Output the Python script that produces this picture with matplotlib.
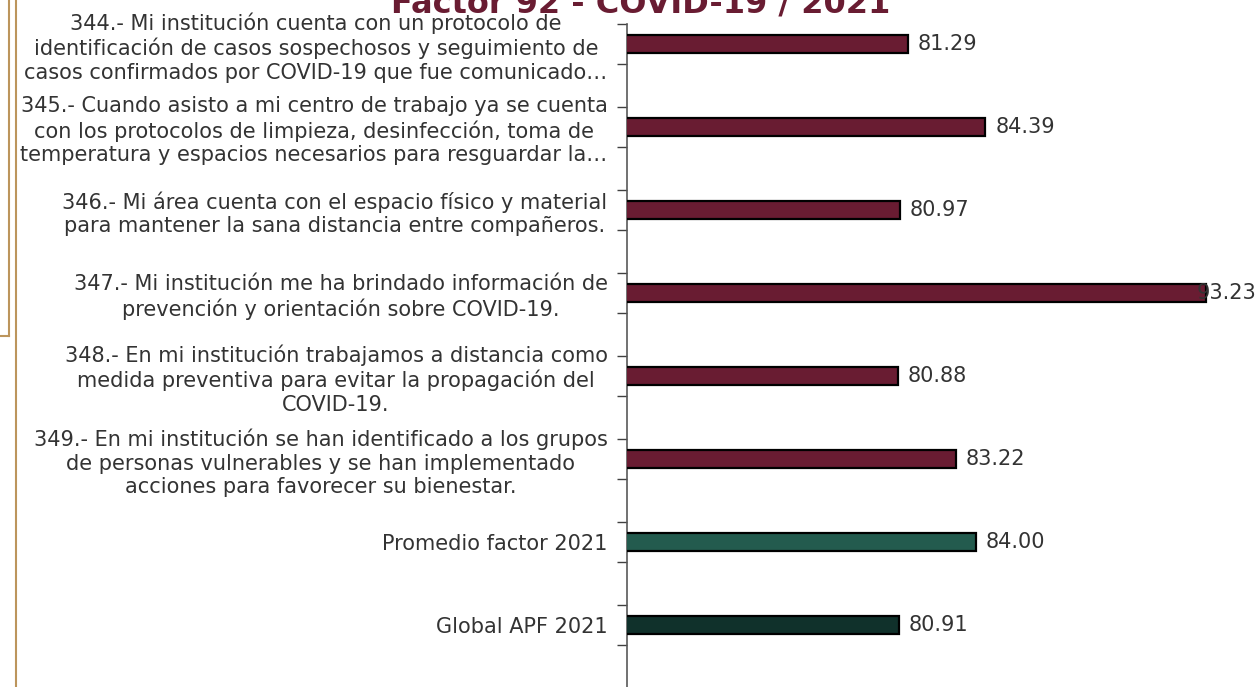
import matplotlib
matplotlib.use("Agg")
from matplotlib import pyplot as plt
from matplotlib.lines import Line2D
import numpy as np

# data
labels = [
    "344.- Mi institución cuenta con un protocolo de\nidentificación de casos sospechosos y seguimiento de\ncasos confirmados por COVID-19 que fue comunicado…",
    "345.- Cuando asisto a mi centro de trabajo ya se cuenta\ncon los protocolos de limpieza, desinfección, toma de\ntemperatura y espacios necesarios para resguardar la…",
    "346.- Mi área cuenta con el espacio físico y material\npara mantener la sana distancia entre compañeros.",
    "347.- Mi institución me ha brindado información de\nprevención y orientación sobre COVID-19.",
    "348.- En mi institución trabajamos a distancia como\nmedida preventiva para evitar la propagación del\nCOVID-19.",
    "349.- En mi institución se han identificado a los grupos\nde personas vulnerables y se han implementado\nacciones para favorecer su bienestar.",
    "Promedio factor 2021",
    "Global APF 2021",
]
values = [81.29, 84.39, 80.97, 93.23, 80.88, 83.22, 84.00, 80.91]
bar_colors = ["#691C32"] * 6 + ["#235B4E", "#10312B"]
title = "Factor 92 - COVID-19 / 2021"

text_col = "#333333"
W, H = 1259, 687
fig = plt.figure(figsize=(W / 100, H / 100), dpi=100)

# plot area: axis line at x=627, top at y=24, runs off the bottom
ax = fig.add_axes([627 / W, 0.0, (1256 - 627) / W, 1 - 24 / H])
xmin, xmax = 70, 95.25
ys = np.arange(len(values))
ax.barh(ys, values, height=0.22, color=bar_colors, edgecolor="black", linewidth=1.6, zorder=3)
ax.set_xlim(xmin, xmax)
ax.set_ylim(7 + 62 / 83, -20 / 83)

ax.set_yticks(ys)
ax.set_yticklabels(labels, fontsize=15, color=text_col, ha="right", multialignment="center",
                   linespacing=1.22)
ax.tick_params(axis="y", which="major", length=0, pad=14)
ax.set_yticks(np.concatenate([ys - 0.24, ys + 0.24]), minor=True)
ax.tick_params(axis="y", which="minor", length=7, width=1, color="#404040", direction="out")
ax.xaxis.set_visible(False)
for s in ["top", "right", "bottom"]:
    ax.spines[s].set_visible(False)
ax.spines["left"].set_color("#595959")
ax.spines["left"].set_linewidth(1.2)

# value labels, the last one is pushed back inside the plot area like Excel does
for y, v in zip(ys, values):
    if v + 3.0 > xmax:
        ax.text(xmax, y, f"{v:.2f}", ha="right", va="center", fontsize=15, color=text_col)
    else:
        ax.annotate(f"{v:.2f}", (v, y), xytext=(7, 0), textcoords="offset points",
                    ha="left", va="center", fontsize=15, color=text_col)

# title, mostly cut off at the top
fig.text(641 / W, 1 - 13 / H, title, ha="center", va="baseline", fontsize=23,
         fontweight="bold", color="#691C32")

# tan frame lines on the left edge
tan = "#BC955C"
fig.add_artist(Line2D([9 / W, 9 / W], [1, 1 - 336 / H], color=tan, lw=1.5))
fig.add_artist(Line2D([0, 9 / W], [1 - 336 / H, 1 - 336 / H], color=tan, lw=1.5))
fig.add_artist(Line2D([16 / W, 16 / W], [1, 1 - 686 / H], color=tan, lw=1.5))

fig.savefig("out.png", dpi=100)
